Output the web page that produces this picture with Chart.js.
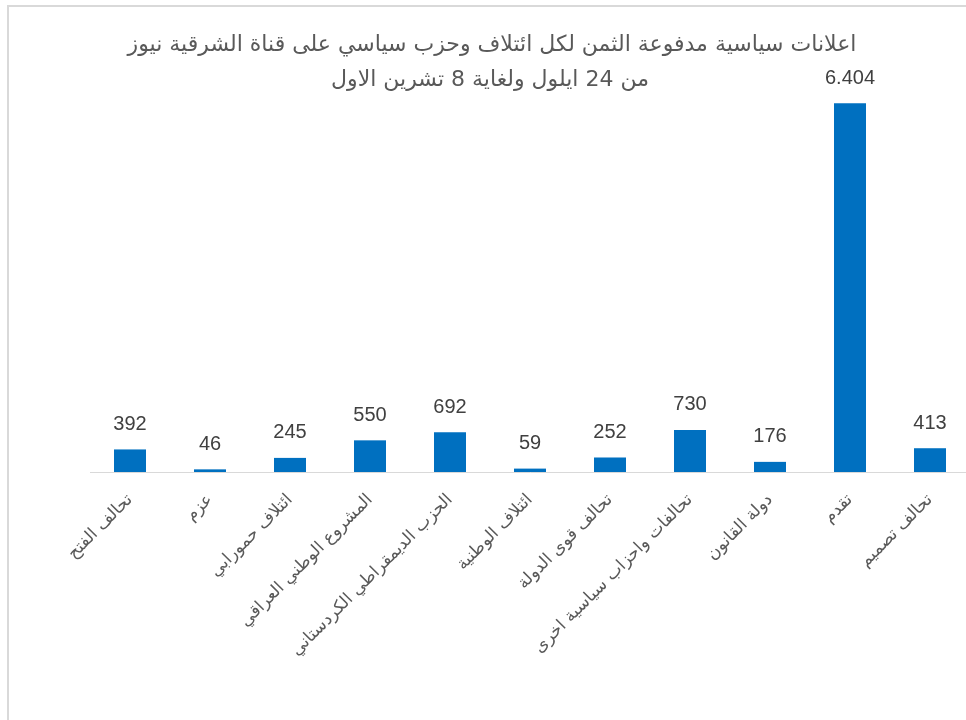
<!DOCTYPE html>
<html>
<head>
<meta charset="utf-8">
<script src="https://cdn.jsdelivr.net/npm/chart.js@4/dist/chart.umd.min.js"></script>
<style>
  html, body { margin: 0; padding: 0; background: #fff; overflow: hidden; }
  #frame { position: absolute; left: 7px; top: 5px; width: 1000px; height: 800px; border: 2px solid #d9d9d9; box-sizing: border-box; }
  #wrap { position: absolute; left: 0; top: 0; width: 990px; height: 720px; }
</style>
</head>
<body>
<div id="frame"></div>
<div id="wrap"><canvas id="chart"></canvas></div>
<script>
const titleLines = [
  "اعلانات سياسية مدفوعة الثمن لكل ائتلاف وحزب سياسي على قناة الشرقية نيوز",
  "من 24 ايلول ولغاية 8 تشرين الاول"
];
const parties = [
  "تحالف الفتح", "عزم", "ائتلاف حمورابي", "المشروع الوطني العراقي",
  "الحزب الديمقراطي الكردستاني", "ائتلاف الوطنية", "تحالف قوى الدولة",
  "تحالفات واحزاب سياسية اخرى", "دولة القانون", "تقدم", "تحالف تصميم"
];
const adCounts = [392, 46, 245, 550, 692, 59, 252, 730, 176, 6404, 413];

let ctx = document.getElementById("chart").getContext("2d");

function fmt(v) {
  return v.toString().replace(/\B(?=(\d{3})+(?!\d))/g, ".");
}

const labelsPlugin = {
  id: "labels",
  afterDatasetsDraw(chart) {
    let c = chart.ctx;
    let meta = chart.getDatasetMeta(0);
    c.save();
    c.fillStyle = "#404040";
    c.font = "20px 'Liberation Sans', sans-serif";
    c.textAlign = "center";
    c.textBaseline = "middle";
    meta.data.forEach((bar, i) => {
      c.fillText(fmt(adCounts[i]), bar.x, bar.y - 25);
    });
    c.fillStyle = "#595959";
    c.font = "22px 'DejaVu Sans', sans-serif";
    c.fillText(titleLines[0], 492, 45);
    c.fillText(titleLines[1], 490, 80);
    c.restore();
  }
};

const chart = new Chart(ctx, {
  type: "bar",
  data: {
    labels: parties,
    datasets: [{
      data: adCounts,
      backgroundColor: "#0070c0",
      categoryPercentage: 1,
      barPercentage: 0.4
    }]
  },
  options: {
    responsive: true,
    maintainAspectRatio: false,
    animation: false,
    layout: { padding: { left: 90, right: 20, top: 69, bottom: 0 } },
    plugins: { legend: { display: false }, tooltip: { enabled: false } },
    scales: {
      y: { display: false, min: 0, max: 7000 },
      x: {
        grid: { display: false },
        border: { display: true, color: "#d9d9d9", width: 1 },
        ticks: {
          color: "#595959",
          font: { family: "'DejaVu Sans', sans-serif", size: 17 },
          minRotation: 45,
          maxRotation: 45,
          autoSkip: false,
          padding: 10
        },
        afterFit(s) { s.height = 248; }
      }
    }
  },
  plugins: [labelsPlugin]
});
</script>
</body>
</html>
